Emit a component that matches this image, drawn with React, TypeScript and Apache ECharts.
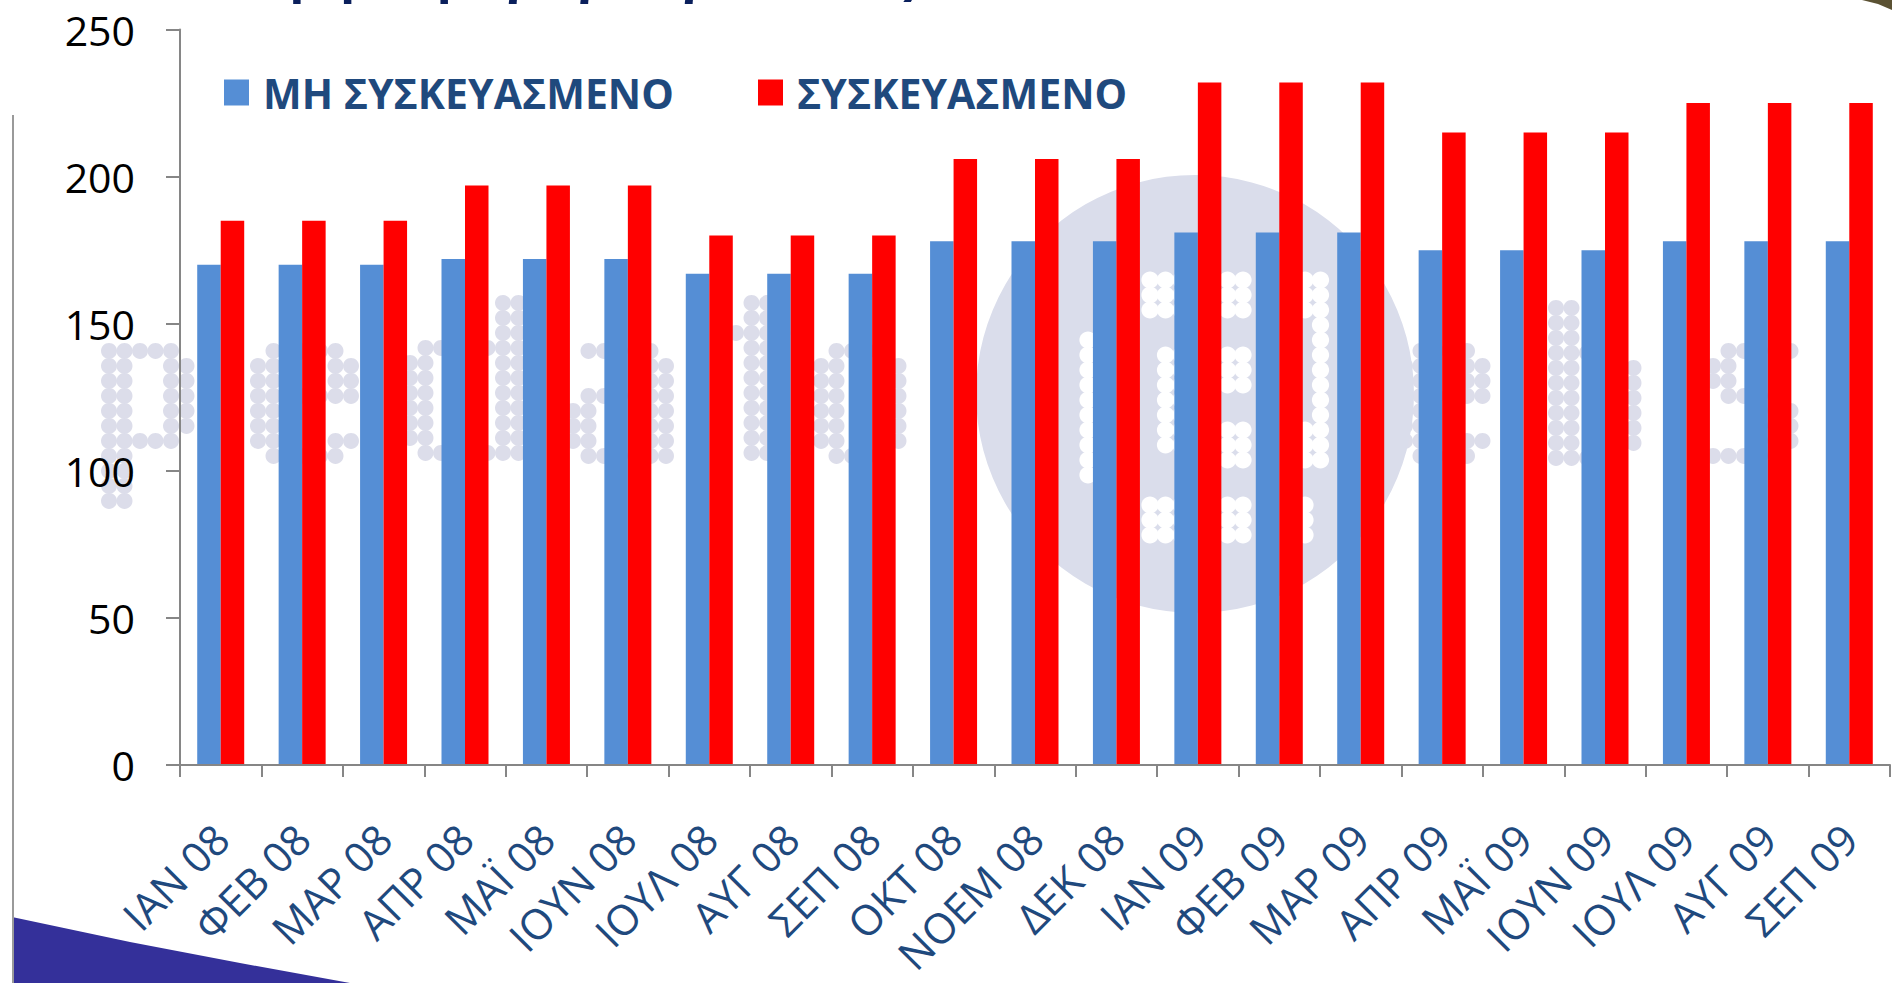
import React, { useEffect, useRef } from "react";
import * as echarts from "echarts";

const categories = [
  "ΙΑΝ 08", "ΦΕΒ 08", "ΜΑΡ 08", "ΑΠΡ 08", "ΜΑΪ 08", "ΙΟΥΝ 08", "ΙΟΥΛ 08",
  "ΑΥΓ 08", "ΣΕΠ 08", "ΟΚΤ 08", "ΝΟΕΜ 08", "ΔΕΚ 08", "ΙΑΝ 09", "ΦΕΒ 09",
  "ΜΑΡ 09", "ΑΠΡ 09", "ΜΑΪ 09", "ΙΟΥΝ 09", "ΙΟΥΛ 09", "ΑΥΓ 09", "ΣΕΠ 09",
];
const seriesNames = ["ΜΗ ΣΥΣΚΕΥΑΣΜΕΝΟ", "ΣΥΣΚΕΥΑΣΜΕΝΟ"];
const unpackaged = [170, 170, 170, 172, 172, 172, 167, 167, 167, 178, 178, 178, 181, 181, 181, 175, 175, 175, 178, 178, 178];
const packaged = [185, 185, 185, 197, 197, 197, 180, 180, 180, 206, 206, 206, 232, 232, 232, 215, 215, 215, 225, 225, 225];
const yMin = 0;
const yMax = 250;
const yInterval = 50;
const titleLeft = "Τιμή παραγωγού γάλακτος";
const titleUnit = "(€/τόνο)";

const NAVY = "#1F497D";

// faint dot-matrix watermark (decoration only)
const wmBlocks: { x: number; y: number; rows: string[] }[] = [
  { x: 109, y: 351, rows: ["XXXXX.", "XX..XX", "XX..XX", "XX..XX", "XX..XX", "XX..XX", "XXXXX.", "XX....", "XX....", "XX....", "XX...."] },
  { x: 258, y: 351, rows: [".XXXXX.", "XX...XX", "XX...XX", "XXXXXXX", "XX.....", "XX.....", "XX...XX", ".XXXXX."] },
  { x: 410, y: 303, rows: ["......XX", "......XX", "......XX", ".XXXXXXX", "XX....XX", "XX....XX", "XX....XX", "XX....XX", "XX....XX", "XX....XX", ".XXXXXXX"] },
  { x: 573, y: 351, rows: [".XXXXX.", ".....XX", ".....XX", ".XXXXXX", "XX...XX", "XX...XX", "XX...XX", ".XXXXXX"] },
  { x: 736, y: 303, rows: [".XX.", ".XX.", "XXXX", ".XX.", ".XX.", ".XX.", ".XX.", ".XX.", ".XX.", ".XX.", ".XXX"] },
  { x: 821, y: 351, rows: [".XXXX.", "XX..XX", "XX..XX", "XX..XX", "XX..XX", "XX..XX", "XX..XX", ".XXXX."] },
  { x: 1405, y: 351, rows: [".XXXX.", "XX..XX", "XX..XX", "XXXXXX", "XX....", "XX....", "XX..XX", ".XXXX."] },
  { x: 1556, y: 308, rows: ["XX....", "XX....", "XX....", "XXXXX.", "XX..XX", "XX..XX", "XX..XX", "XX..XX", "XX..XX", "XX..XX", "XXXXX."] },
  { x: 1713, y: 351, rows: [".XXXXX", "XX....", "XX....", ".XXXX.", "....XX", "....XX", "....XX", "XXXXX."] },
];
const wmInner = {
  x: 1088, y: 280, rows: [
    "....XXX..XX...XX",
    "....XXX..XX...XX",
    "....XXX..XX...XX",
    "...............X",
    "X..............X",
    "X....XX..XX....X",
    "X....XX..XX....X",
    "X....XX..XX....X",
    "X....XX........X",
    "X....XX........X",
    "X....XX..XX...XX",
    "X....XX..XX...XX",
    "X........XX...XX",
    "X...............",
    "................",
    "....XXX..XX...X.",
    "....XXX..XX...X.",
    "....XXX..XX...X.",
  ],
};

function dots(block: { x: number; y: number; rows: string[] }, fill: string, rx: number, ry: number) {
  const out: any[] = [];
  block.rows.forEach((row, r) => {
    for (let c = 0; c < row.length; c++) {
      if (row[c] === "X") {
        out.push({
          type: "ellipse", silent: true, z: 0,
          shape: { cx: block.x + c * 15.5, cy: block.y + r * 15, rx, ry },
          style: { fill },
        });
      }
    }
  });
  return out;
}

export default function App() {
  const ref = useRef<HTMLDivElement>(null);
  useEffect(() => {
    document.body.style.margin = "0";
    const chart = echarts.init(ref.current!, null, { renderer: "svg" });
    const legendText = {
      color: NAVY,
      fontFamily: "Open Sans",
      fontWeight: "bold",
      fontSize: 41,
      padding: [0, 0, 0, 9],
    };
    const watermark: any[] = [];
    wmBlocks.forEach((b) => watermark.push(...dots(b, "#DCDDEA", 8, 7.9)));
    const inner = dots(wmInner, "#FFFFFF", 8.6, 8.4);
    chart.setOption({
      animation: false,
      backgroundColor: "#ffffff",
      grid: { left: 180, right: 2, top: 29.5, bottom: 218 },
      legend: [
        {
          data: [seriesNames[0]], left: 219, top: 67, icon: "rect",
          itemWidth: 25, itemHeight: 26, textStyle: legendText,
        },
        {
          data: [seriesNames[1]], left: 753, top: 67, icon: "rect",
          itemWidth: 25, itemHeight: 26, textStyle: legendText,
        },
      ],
      graphic: [
        {
          type: "group", silent: true,
          children: watermark,
        },
        {
          type: "circle", z: 0, silent: true,
          shape: { cx: 1195, cy: 394, r: 219 },
          style: { fill: "#DADDEB" },
        },
        {
          type: "group", silent: true,
          children: inner,
        },
        {
          type: "polygon", z: 0, silent: true,
          shape: { points: [[12, 917], [130, 942], [240, 963], [350, 983], [12, 983]] },
          style: { fill: "#34309A" },
        },
        {
          type: "line", z: 0, silent: true,
          shape: { x1: 13, y1: 115, x2: 13, y2: 983 },
          style: { stroke: "#9a9a9a", lineWidth: 2 },
        },
        {
          type: "polygon", z: 0, silent: true,
          shape: { points: [[1862, 0], [1892, 0], [1892, 10], [1878, 4]] },
          style: { fill: "#5b5233" },
        },
        {
          type: "text", z: 0, silent: true, x: 240, y: -27,
          style: { text: titleLeft, fill: "#0A1F5C", font: "bold 50px 'Open Sans'", verticalAlign: "middle" },
        },
        {
          type: "text", z: 0, silent: true, x: 1160, y: -27,
          style: { text: titleUnit, fill: "#0A1F5C", font: "bold 50px 'Open Sans'", verticalAlign: "middle" },
        },
      ],
      xAxis: {
        type: "category",
        data: categories,
        z: 5,
        axisLine: { lineStyle: { color: "#868686", width: 2 } },
        axisTick: { show: true, length: 12, lineStyle: { color: "#868686", width: 2 } },
        axisLabel: {
          rotate: 45,
          interval: 0,
          margin: 66,
          color: NAVY,
          fontFamily: "Open Sans",
          fontSize: 42,
        },
      },
      yAxis: {
        type: "value",
        min: yMin,
        max: yMax,
        interval: yInterval,
        z: 5,
        splitLine: { show: false },
        axisLine: { show: true, lineStyle: { color: "#868686", width: 2 } },
        axisTick: { show: true, length: 14, lineStyle: { color: "#868686", width: 2 } },
        axisLabel: {
          margin: 45,
          color: "#000000",
          fontFamily: "Open Sans",
          fontSize: 41,
        },
      },
      series: [
        {
          name: seriesNames[0], type: "bar", data: unpackaged, z: 3,
          barWidth: 23.5, barGap: "0%", itemStyle: { color: "#558ED5" },
        },
        {
          name: seriesNames[1], type: "bar", data: packaged, z: 3,
          barWidth: 23.5, barGap: "0%", itemStyle: { color: "#FF0000" },
        },
      ],
    });
    return () => chart.dispose();
  }, []);
  return <div ref={ref} style={{ width: 1892, height: 983 }} />;
}
